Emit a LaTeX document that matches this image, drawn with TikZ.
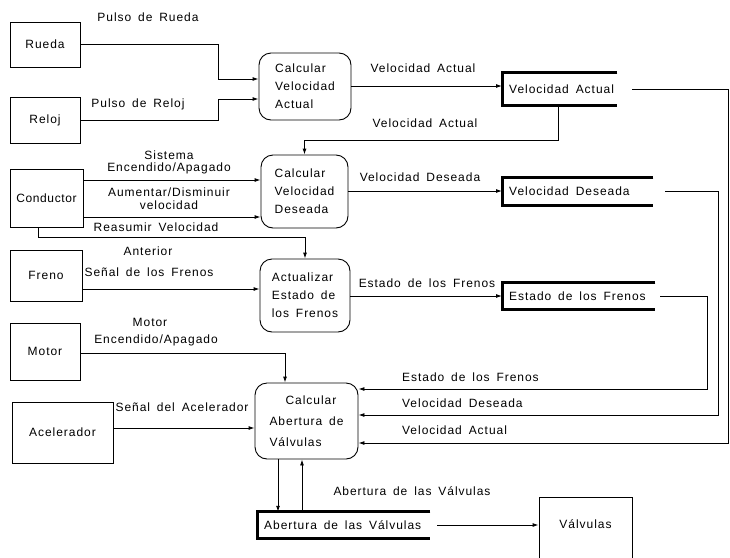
\documentclass[tikz,border=0pt]{standalone}
\usepackage{fontspec}
\setmainfont{Liberation Sans}[LetterSpace=8,WordSpace=1.6]
\usetikzlibrary{arrows.meta}
\newcommand\storetext[2]{\makebox[#1][l]{#2}}
\begin{document}
\begin{tikzpicture}[x=1pt,y=-1pt,
  every node/.style={font=\fontsize{12}{18}\selectfont},
  ext/.style={draw,line width=0.9pt,inner sep=0pt},
  proc/.style={draw,line width=0.9pt,rounded corners=12pt,align=left,inner sep=0pt},
  store/.style={inner xsep=7pt,inner ysep=0pt,anchor=west},
  storeline/.style={line width=3pt},
  flow/.style={line width=0.9pt,-{Latex[length=6pt,width=4pt]}},
  lbl/.style={inner sep=0pt}]
\useasboundingbox (0,0) rectangle (730,557);

% external entities
\node[ext,minimum width=70pt,minimum height=45pt] (rueda) at (45,44.5) {Rueda};
\node[ext,minimum width=70pt,minimum height=46pt] (reloj) at (45,120) {Reloj};
\node[ext,minimum width=73pt,minimum height=58pt] (cond) at (46.5,198) {\addfontfeature{LetterSpace=5}Conductor};
\node[ext,minimum width=72pt,minimum height=51pt] (freno) at (46,275.5) {Freno};
\node[ext,minimum width=70pt,minimum height=57pt] (motor) at (45,351.5) {Motor};
\node[ext,minimum width=101pt,minimum height=61pt] (acel) at (62.5,432.5) {Acelerador};
\node[ext,minimum width=93pt,minimum height=66pt,text depth=12pt] (valv) at (585.5,530) {Válvulas};

% processes
\node[proc,minimum width=92pt,minimum height=67pt] (p1) at (305,86.5) {Calcular\\Velocidad\\Actual};
\node[proc,minimum width=87pt,minimum height=73pt] (p2) at (304.5,191.5) {Calcular\\Velocidad\\Deseada};
\node[proc,minimum width=90pt,minimum height=73pt] (p3) at (305,295.5) {Actualizar\\Estado de\\los Frenos};
\node[proc,minimum width=103pt,minimum height=76pt] (p4) at (306.5,421) {\hspace*{16pt}Calcular\\[3pt]Abertura de\\[3pt]Válvulas};

% data stores (open on the right)
\node[store,minimum height=32pt] (va) at (502,89) {\storetext{116pt}{Velocidad Actual}};
\node[store,minimum height=27pt] (vd) at (502,191.5) {\storetext{149pt}{Velocidad Deseada}};
\node[store,minimum height=26pt] (ef) at (502,296) {\storetext{144pt}{Estado de los Frenos}};
\node[store,minimum height=26pt] (ab) at (257,525) {\storetext{166pt}{Abertura de las Válvulas}};
\draw[storeline] ([xshift=-15pt]va.north east) -- (va.north west) -- (va.south west) -- ([xshift=-15pt]va.south east);
\draw[storeline] ([xshift=-12pt]vd.north east) -- (vd.north west) -- (vd.south west) -- ([xshift=-12pt]vd.south east);
\draw[storeline] ([xshift=-5pt]ef.north east) -- (ef.north west) -- (ef.south west) -- ([xshift=-5pt]ef.south east);
\draw[storeline] ([xshift=-7pt]ab.north east) -- (ab.north west) -- (ab.south west) -- ([xshift=-7pt]ab.south east);

% flows
\draw[flow] (rueda.east) -| (218,79) -- (p1.west |- 0,79);
\draw[flow] (reloj.east) -| (218,99) -- (p1.west |- 0,99);
\draw[flow] (p1.east |- 0,86) -- (va.west |- 0,86);
\draw[flow] (va.south -| 558,0) -- (558,140) -| (p2.north);
\draw[flow] (cond.east |- 0,180) -- (p2.west |- 0,180);
\draw[flow] (cond.east |- 0,217) -- (p2.west |- 0,217);
\draw[flow] (cond.south -| 38,0) -- (38,237) -| (p3.north);
\draw[flow] (p2.east |- 0,191) -- (vd.west |- 0,191);
\draw[flow] (freno.east |- 0,289) -- (p3.west |- 0,289);
\draw[flow] (p3.east |- 0,296) -- (ef.west |- 0,296);
\draw[flow] (motor.east |- 0,353) -| (p4.north -| 285,0);
\draw[flow] (acel.east |- 0,428) -- (p4.west |- 0,428);
\draw[flow] (ef.east) -| (707,389) -- (p4.east |- 0,389);
\draw[flow] (vd.east) -| (718,415) -- (p4.east |- 0,415);
\draw[flow] (va.east) -| (728,443) -- (p4.east |- 0,443);
\draw[flow] (p4.south -| 278,0) -- (ab.north -| 278,0);
\draw[flow] (ab.north -| 302,0) -- (p4.south -| 302,0);
\draw[flow] (ab.east) -- (valv.west |- ab.east);

% flow labels
\node[lbl] (t1) at (148,17) {Pulso de Rueda};
\node[lbl] (t2) at (138,104) {Pulso de Reloj};
\node[lbl] (t3) at (423,68) {Velocidad Actual};
\node[lbl] (t4) at (425,123) {Velocidad Actual};
\node[lbl] (t5) at (169,155) {Sistema};
\node[lbl] (t6) at (169,168) {Encendido/Apagado};
\node[lbl] (t7) at (169,192) {Aumentar/Disminuir};
\node[lbl] (t8) at (169,205) {velocidad};
\node[lbl] (t9) at (156,227) {Reasumir Velocidad};
\node[lbl] (t10) at (420,177) {Velocidad Deseada};
\node[lbl] (t11) at (148,251) {Anterior};
\node[lbl] (t12) at (149,272) {Señal de los Frenos};
\node[lbl] (t13) at (427,283) {Estado de los Frenos};
\node[lbl] (t14) at (150,322) {Motor};
\node[lbl] (t15) at (156,340) {Encendido/Apagado};
\node[lbl] (t16) at (182,407) {Señal del Acelerador};
\node[lbl,anchor=west] (t17) at (402,377) {Estado de los Frenos};
\node[lbl,anchor=west] (t18) at (402,403) {Velocidad Deseada};
\node[lbl,anchor=west] (t19) at (402,430) {Velocidad Actual};
\node[lbl] (t20) at (412,491) {Abertura de las Válvulas};
\end{tikzpicture}
\end{document}
